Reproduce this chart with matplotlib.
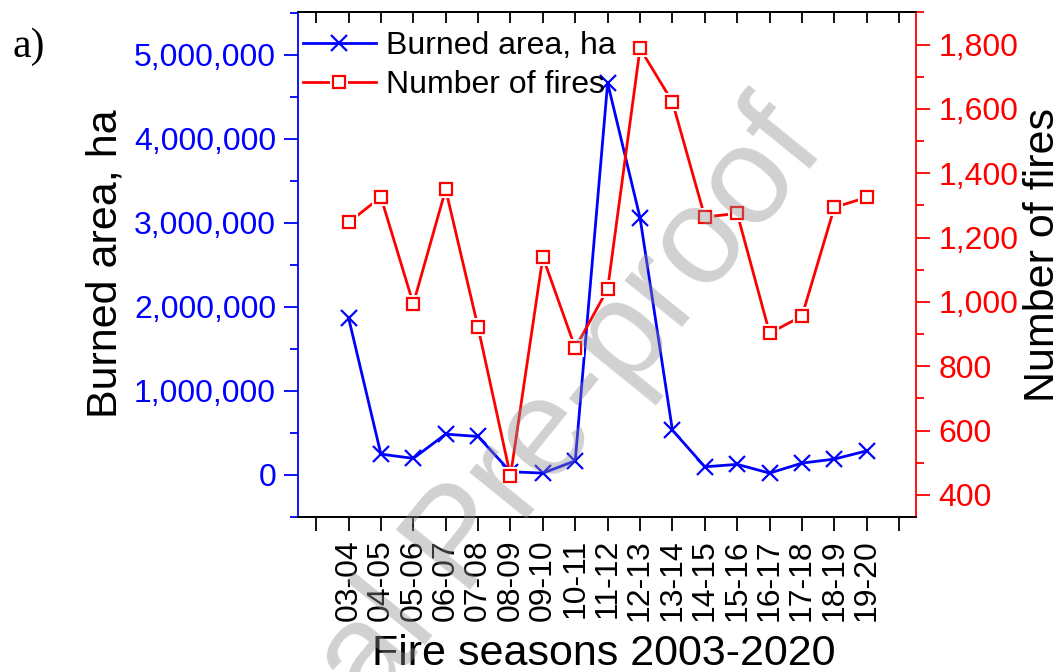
import numpy as np
import matplotlib
matplotlib.use("Agg")
import matplotlib.pyplot as plt
from matplotlib.ticker import FuncFormatter, MultipleLocator
from matplotlib.lines import Line2D
from matplotlib.legend_handler import HandlerTuple

# ---- data ----
seasons = ["03-04", "04-05", "05-06", "06-07", "07-08", "08-09", "09-10", "10-11",
           "11-12", "12-13", "13-14", "14-15", "15-16", "16-17", "17-18", "18-19", "19-20"]
burned_area = [1871000, 246000, 195000, 484000, 456000, 36000, 20000, 166000,
               4664000, 3059000, 531000, 95000, 124000, 20000, 139000, 187000, 285000]
num_fires = [1247, 1326, 994, 1350, 921, 459, 1140, 857,
             1040, 1788, 1622, 1264, 1275, 903, 956, 1294, 1325]

BLUE = (0, 0, 1)
RED = (1, 0, 0)
FONT = "Liberation Sans"
plt.rcParams['font.family'] = [FONT, 'DejaVu Sans']

W, H = 1064, 672
fig = plt.figure(figsize=(W / 100, H / 100), dpi=100)
L, R, T, B = 298.3, 916.0, 11.8, 516.8
ax1 = fig.add_axes([L / W, 1 - B / H, (R - L) / W, (B - T) / H])
ax2 = ax1.twinx()

x = np.arange(1, len(seasons) + 1)
LW = 2.0

# blue series
ax1.plot(x, burned_area, color=BLUE, lw=LW, marker='x', ms=11, mew=1.6, zorder=3)
# red series with gaps around markers
ax2.plot(x, num_fires, color=RED, lw=LW, zorder=2)
ax2.plot(x, num_fires, ls='none', marker='s', ms=13, mfc='white', mec='white', mew=0, zorder=3)
ax2.plot(x, num_fires, ls='none', marker='s', ms=8, mfc='white', mec=RED, mew=1.6, zorder=4)

# axes limits
ax1.set_xlim(-0.55, 18.52)
ax1.set_ylim(-500000, 5510000)
ax2.set_ylim(332, 1902)

# x ticks
ax1.set_xticks(np.arange(0, len(seasons) + 2))
ax1.set_xticklabels([''] + seasons + [''], rotation=90, fontsize=23)
ax1.tick_params(axis='x', direction='out', length=10, width=1.3, pad=6, colors='black')
sec = ax1.secondary_xaxis('top')
sec.set_xticks(np.arange(0, len(seasons) + 2))
sec.tick_params(axis='x', direction='in', length=8, width=1.3, labeltop=False)
sec.spines['top'].set_linewidth(1.3)

# left y
ax1.yaxis.set_major_locator(MultipleLocator(1000000))
ax1.yaxis.set_minor_locator(MultipleLocator(500000))
ax1.yaxis.set_major_formatter(FuncFormatter(lambda v, p: f"{int(round(v)):,}"))
ax1.tick_params(axis='y', which='major', direction='out', length=10, width=1.3,
                colors=BLUE, labelsize=23, pad=6)
ax1.tick_params(axis='y', which='minor', direction='out', length=6, width=1.3, colors=BLUE)

# right y
ax2.yaxis.set_major_locator(MultipleLocator(200))
ax2.yaxis.set_minor_locator(MultipleLocator(100))
ax2.yaxis.set_major_formatter(FuncFormatter(lambda v, p: f"{int(round(v)):,}"))
ax2.tick_params(axis='y', which='major', direction='out', length=10, width=1.3,
                colors=RED, labelsize=23, pad=6)
ax2.tick_params(axis='y', which='minor', direction='out', length=6, width=1.3, colors=RED)

for ax in (ax1, ax2):
    for s in ax.spines.values():
        s.set_linewidth(1.3)
ax1.spines['left'].set_color(BLUE)
ax2.spines['left'].set_visible(False)
ax2.spines['right'].set_color(RED)
ax1.spines['right'].set_visible(False)
ax1.spines['bottom'].set_color('black')
ax1.spines['top'].set_color('black')

# axis labels
fig.text(106 / W, 1 - 264 / H, "Burned area, ha", rotation=90, ha='center', va='center',
         fontsize=31, color='black')
fig.text(1043 / W, 1 - 255 / H, "Number of fires", rotation=90, ha='center', va='center',
         fontsize=31, color='black')
fig.text(604 / W, 1 - 665 / H, "Fire seasons 2003-2020", ha='center', va='baseline',
         fontsize=31, color='black')
fig.text(12 / W, 1 - 57 / H, "a)", ha='left', va='baseline', fontsize=30,
         family='Liberation Serif', color='black')

# legend
h_blue = Line2D([], [], color=BLUE, lw=LW, marker='x', ms=11, mew=1.6)
h_red_line = Line2D([], [], color=RED, lw=LW)
h_red_gap = Line2D([], [], ls='none', marker='s', ms=13, mfc='white', mec='white', mew=0)
h_red_mk = Line2D([], [], ls='none', marker='s', ms=8, mfc='white', mec=RED, mew=1.6)
leg = ax2.legend([h_blue, (h_red_line, h_red_gap, h_red_mk)],
                 ["Burned area, ha", "Number of fires"],
                 handler_map={tuple: HandlerTuple(ndivide=1, pad=0)},
                 loc='upper left', bbox_to_anchor=(0.007, 0.962), borderaxespad=0,
                 borderpad=0, frameon=False, fontsize=23, handlelength=2.3,
                 handletextpad=0.32, labelspacing=0.28)
leg.set_zorder(5)

# watermark
fig.text(462 / W, 1 - 542 / H, "Journal Pre-proof", rotation=51, ha='center', va='center',
         rotation_mode='anchor', fontsize=100, color=(0.55, 0.55, 0.55), alpha=0.4,
         zorder=10)

fig.savefig("out.png", dpi=100)
